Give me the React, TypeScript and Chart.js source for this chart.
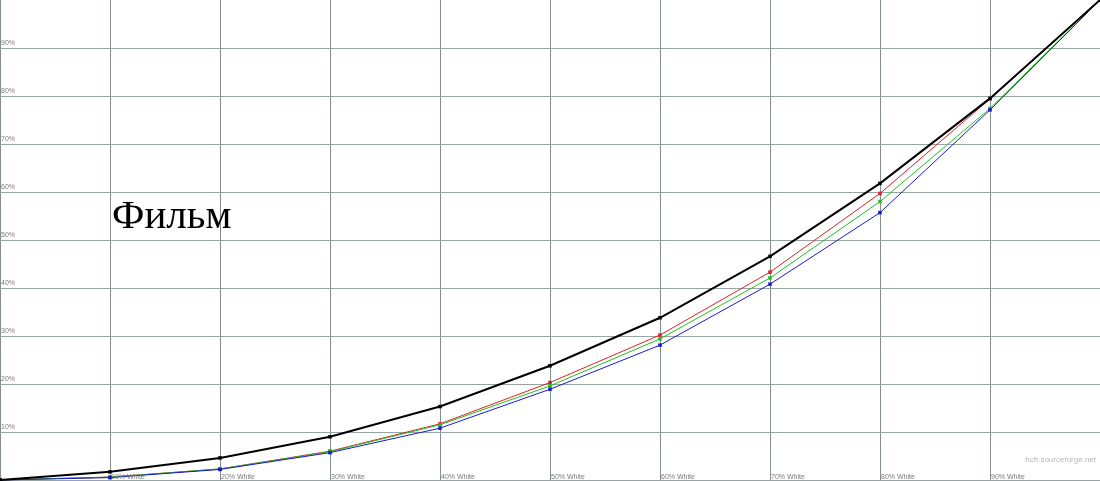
import React, { useEffect, useRef } from "react";
import { Chart, registerables } from "chart.js";

Chart.register(...registerables);

const xLevels = [0, 10, 20, 30, 40, 50, 60, 70, 80, 90, 100];
const xTickLabels = ["", "10% White", "20% White", "30% White", "40% White", "50% White", "60% White", "70% White", "80% White", "90% White", ""];
const yTickLabels = ["", "10%", "20%", "30%", "40%", "50%", "60%", "70%", "80%", "90%", ""];
const referenceValues = [0, 1.7, 4.6, 9.0, 15.3, 23.8, 33.8, 46.6, 61.8, 79.5, 100];
const redValues = [0, 0.6, 2.3, 6.0, 11.7, 20.3, 30.2, 43.3, 59.7, 79.4, 100];
const greenValues = [0, 0.6, 2.3, 5.9, 11.5, 19.6, 29.4, 42.1, 58.0, 77.4, 100];
const blueValues = [0, 0.5, 2.2, 5.7, 10.8, 18.9, 28.1, 40.8, 55.7, 77.1, 100];
const titleText = "Фильм";
const watermark = "hcfr.sourceforge.net";

const toPoints = (vals: number[]) => xLevels.map((x, i) => ({ x, y: vals[i] }));

const gridPlugin = {
  id: "grid",
  beforeDatasetsDraw(chart: any) {
    const ctx = chart.ctx;
    const xs = chart.scales.x;
    const ys = chart.scales.y;
    const { left, right, top, bottom } = chart.chartArea;
    ctx.save();
    ctx.lineWidth = 1;
    ctx.strokeStyle = "#809090";
    xLevels.forEach((v) => {
      const px = Math.round(xs.getPixelForValue(v)) + 0.5;
      if (px > right) return;
      ctx.beginPath();
      ctx.moveTo(px, top);
      ctx.lineTo(px, bottom + 1);
      ctx.stroke();
    });
    ctx.strokeStyle = "#98a4a4";
    xLevels.forEach((v) => {
      const py = Math.round(ys.getPixelForValue(v)) + 0.5;
      if (py < top + 2) return;
      ctx.beginPath();
      ctx.moveTo(left, py);
      ctx.lineTo(right, py);
      ctx.stroke();
    });
    ctx.restore();
  },
};

const overlayPlugin = {
  id: "overlay",
  afterDraw(chart: any) {
    const ctx = chart.ctx;
    const xs = chart.scales.x;
    const ys = chart.scales.y;
    ctx.save();
    ctx.fillStyle = "#7a7a7a";
    ctx.font = "7px 'Liberation Sans', Arial, sans-serif";
    ctx.textBaseline = "bottom";
    ctx.textAlign = "left";
    xLevels.forEach((v, i) => {
      if (!xTickLabels[i]) return;
      ctx.fillText(xTickLabels[i], xs.getPixelForValue(v) + 1, ys.getPixelForValue(0) + 1);
    });
    xLevels.forEach((v, i) => {
      if (!yTickLabels[i]) return;
      ctx.fillText(yTickLabels[i], xs.getPixelForValue(0) + 1, ys.getPixelForValue(v) - 1);
    });
    ctx.fillStyle = "#b8b8b8";
    ctx.font = "8px 'Liberation Sans', Arial, sans-serif";
    ctx.textAlign = "right";
    ctx.textBaseline = "middle";
    ctx.fillText(watermark, chart.chartArea.right - 4, 460);
    ctx.fillStyle = "#000";
    ctx.font = "41px 'Liberation Serif', 'DejaVu Serif', serif";
    ctx.textAlign = "left";
    ctx.textBaseline = "alphabetic";
    ctx.fillText(titleText, 112, 228);
    ctx.restore();
  },
};

export default function App() {
  const ref = useRef<HTMLCanvasElement>(null);
  useEffect(() => {
    document.body.style.margin = "0";
    const mk = (label: string, vals: number[], color: string, width: number) => ({
      label,
      data: toPoints(vals),
      borderColor: color,
      backgroundColor: color,
      borderWidth: width,
      pointStyle: "rect" as const,
      pointRadius: 2.5,
      pointBorderWidth: 0,
      tension: 0,
      clip: false as const,
    });
    const chart = new Chart(ref.current!, {
      type: "line",
      data: {
        datasets: [
          mk("Reference", referenceValues, "#000000", 2),
          mk("Blue", blueValues, "#1a1ad0", 1),
          mk("Green", greenValues, "#20c020", 1),
          mk("Red", redValues, "#e02020", 1),
        ],
      },
      options: {
        responsive: false,
        animation: false,
        layout: { autoPadding: false, padding: { left: 0, right: 0, top: 0, bottom: 1 } },
        plugins: { legend: { display: false }, tooltip: { enabled: false } },
        scales: {
          x: { type: "linear", min: 0, max: 100, display: false },
          y: { type: "linear", min: 0, max: 100, display: false },
        },
      },
      plugins: [gridPlugin, overlayPlugin],
    });
    return () => chart.destroy();
  }, []);
  return (
    <div style={{ width: 1100, height: 481, background: "#fff" }}>
      <canvas ref={ref} width={1100} height={481} style={{ display: "block" }} />
    </div>
  );
}
